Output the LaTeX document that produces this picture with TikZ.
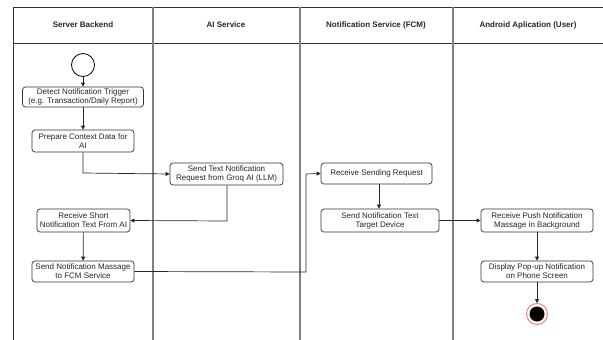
\documentclass[tikz,border=0pt]{standalone}
\usepackage{fontspec}
\setmainfont{Liberation Sans}
\usetikzlibrary{arrows.meta}
\begin{document}
\begin{tikzpicture}[x=1pt,y=-1pt,
  act/.style={draw=black!80, line width=0.7pt, rounded corners=3pt, fill=white, align=center, font=\fontsize{8}{9}\selectfont, inner sep=0.5pt, text=black!85},
  flow/.style={draw=black!85, line width=0.7pt, -{Triangle[length=4pt,width=4pt]}},
  hdr/.style={font=\fontsize{8}{9}\selectfont\bfseries, text=black!85},
  lane/.style={draw=black!50, line width=1.1pt},
  frame/.style={draw=black!80, line width=0.8pt}]
\useasboundingbox (0,0) rectangle (603,340);
% frame
\draw[frame] (13,340) -- (13,7) -- (603,7);
\draw[frame] (13,43) -- (603,43);
\draw[lane] (153,7) -- (153,340);
\draw[lane] (300,7) -- (300,340);
\draw[lane] (453,7) -- (453,340);
% headers
\node[hdr] (h1) at (83,25) {Server Backend};
\node[hdr] (h2) at (226,25) {AI Service};
\node[hdr] (h3) at (376,25) {Notification Service (FCM)};
\node[hdr] (h4) at (528,25) {Android Aplication (User)};
% nodes
\node[draw=black, line width=0.8pt, circle, minimum size=23pt, inner sep=0pt] (start) at (83,65) {};
\node[act, minimum width=121pt, minimum height=20pt] (detect) at (83,97) {Detect Notification Trigger\\(e.g. Transaction/Daily Report)};
\node[act, minimum width=102pt, minimum height=22pt] (prep) at (83,141) {Prepare Context Data for\\AI};
\node[act, minimum width=113pt, minimum height=22pt] (sendtext) at (226.5,174) {Send Text Notification\\Request from Groq AI (LLM)};
\node[act, minimum width=93pt, minimum height=23pt] (recvshort) at (83.5,220.5) {Receive Short\\Notification Text From AI};
\node[act, minimum width=102pt, minimum height=21pt] (sendmsg) at (83,271.5) {Send Notification Massage\\to FCM Service};
\node[act, minimum width=111pt, minimum height=21pt] (recvreq) at (376.5,173.5) {Receive Sending Request};
\node[act, minimum width=118pt, minimum height=23pt] (sendtgt) at (380,220.5) {Send Notification Text\\Target Device};
\node[act, minimum width=112pt, minimum height=23pt] (recvpush) at (537,220.5) {Receive Push Notification\\Massage in Background};
\node[act, minimum width=112pt, minimum height=21pt] (display) at (537,271.5) {Display Pop-up Notification\\on Phone Screen};
\node[draw=red!55, line width=0.9pt, circle, minimum size=21pt, inner sep=0pt] (endc) at (537,314) {};
\node[fill=black, circle, minimum size=15pt, inner sep=0pt] (endin) at (537,314) {};
\coordinate (c1) at (83,173);
\coordinate (c2) at (227,221);
\coordinate (c3) at (306,272);
\coordinate (c4) at (306,174);
\coordinate (c5) at (379,184);
% connectors
\draw[flow] (start) -- (detect);
\draw[flow] (detect) -- (prep);
\draw[flow] (prep.south) -- (c1) -- (sendtext.west);
\draw[flow] (sendtext.south -| c2) -- (c2) -- (recvshort.east);
\draw[flow] (recvshort) -- (sendmsg);
\draw[flow] (sendmsg.east) -- (c3) -- (c4) -- (recvreq.west);
\draw[flow] (recvreq.south -| c5) -- (sendtgt.north -| c5);
\draw[flow] (sendtgt.east) -- (recvpush.west);
\draw[flow] (recvpush) -- (display);
\draw[flow] (display) -- (endc);
\end{tikzpicture}
\end{document}
